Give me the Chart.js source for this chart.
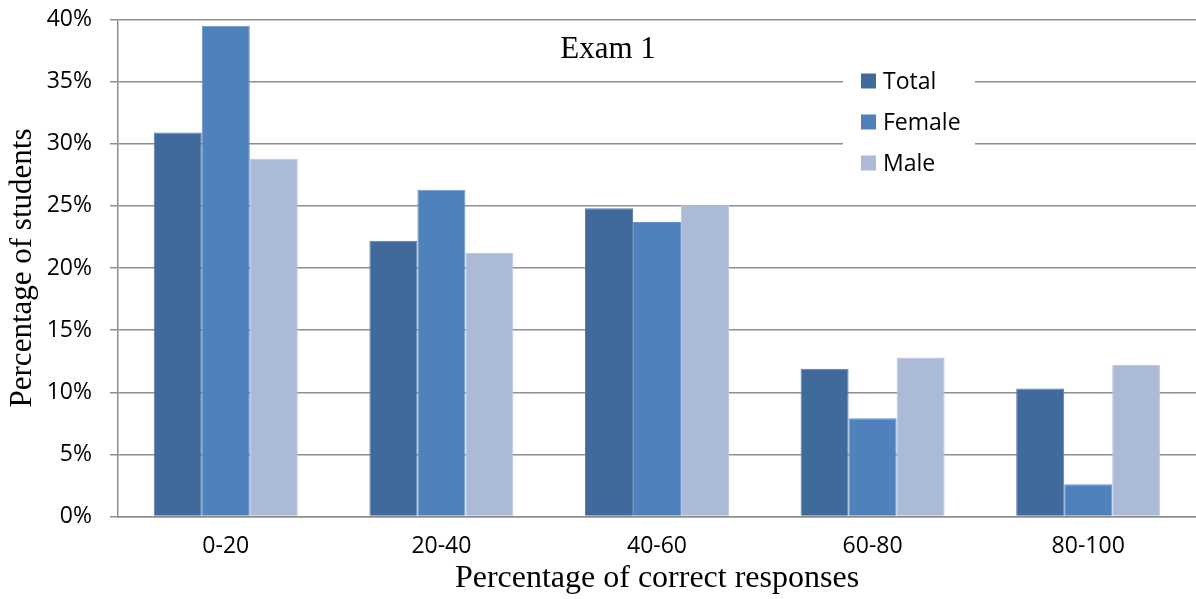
<!DOCTYPE html>
<html>
<head>
<meta charset="utf-8">
<script src="https://cdn.jsdelivr.net/npm/chart.js@4/dist/chart.umd.min.js"></script>
<style>
  html, body { margin: 0; padding: 0; background: #fff; }
  #wrap { width: 1196px; height: 599px; position: relative; }
</style>
</head>
<body>
<div id="wrap"><canvas id="c" width="1196" height="599"></canvas></div>
<script>
// Score bands on the x axis
const categories = ['0-20', '20-40', '40-60', '60-80', '80-100'];
// Share of students (%) in each band
const totalValues = [30.9, 22.2, 24.8, 11.9, 10.3];
const femaleValues = [39.5, 26.3, 23.7, 7.9, 2.6];
const maleValues = [28.8, 21.2, 25.1, 12.8, 12.2];
const seriesNames = ['Total', 'Female', 'Male'];
const chartTitle = 'Exam 1';
const xTitle = 'Percentage of correct responses';
const yTitle = 'Percentage of students';

const colors = ['#416A9C', '#4F81BD', '#AABAD7'];
// slightly lighter outline for each bar
const edgeColors = ['#5a7fab', '#6a94c8', '#bcc8e0'];
const gridColor = '#8e8e8e';
const tickFont = { family: '"Open Sans", "Noto Sans", sans-serif', size: 23 };
const serifFamily = '"Liberation Serif", "DejaVu Serif", serif';
const serifFont = { family: serifFamily, size: 31 };

// In-plot title and boxed legend
const overlayPlugin = {
  id: 'overlay',
  afterDatasetsDraw(chart) {
    const ctx = chart.ctx;
    ctx.save();
    // title
    ctx.fillStyle = '#000';
    ctx.font = `${serifFont.size}px ${serifFamily}`;
    ctx.textAlign = 'center';
    ctx.textBaseline = 'middle';
    ctx.fillText(chartTitle, 608, 50);

    // legend block with white backing over the gridlines
    ctx.fillStyle = '#fff';
    ctx.fillRect(843, 60, 132, 124);
    ctx.font = `23px ${tickFont.family}`;
    ctx.textAlign = 'left';
    chart.data.datasets.forEach((ds, i) => {
      const cy = 81 + i * 41;
      ctx.fillStyle = ds.backgroundColor;
      ctx.fillRect(861, cy - 7.5, 15, 15);
      ctx.fillStyle = '#000';
      ctx.fillText(ds.label, 883, cy + 1);
    });
    ctx.restore();
  }
};

new Chart(document.getElementById('c'), {
  type: 'bar',
  data: {
    labels: categories,
    datasets: [
      { label: seriesNames[0], data: totalValues, backgroundColor: colors[0], borderColor: edgeColors[0] },
      { label: seriesNames[1], data: femaleValues, backgroundColor: colors[1], borderColor: edgeColors[1] },
      { label: seriesNames[2], data: maleValues, backgroundColor: colors[2], borderColor: edgeColors[2] }
    ].map(d => Object.assign(d, {
      borderWidth: { top: 1, left: 1, right: 1, bottom: 0 },
      borderSkipped: false,
      categoryPercentage: 0.668,
      barPercentage: 1.0
    }))
  },
  options: {
    responsive: false,
    animation: false,
    layout: { padding: { top: 19.5, right: 0, left: 0, bottom: 0 } },
    plugins: {
      legend: { display: false },
      tooltip: { enabled: false }
    },
    scales: {
      x: {
        grid: { display: false, drawTicks: false },
        border: { display: true, color: gridColor, width: 1.5 },
        ticks: { color: '#000', font: tickFont, padding: 16, maxRotation: 0 },
        title: { display: true, text: xTitle, color: '#000', font: { family: serifFamily, size: 32 }, padding: { top: 0, bottom: 1 } },
        afterFit(scale) { scale.height = 82.5; }
      },
      y: {
        min: 0,
        max: 40,
        ticks: {
          stepSize: 5,
          color: '#000',
          font: tickFont,
          padding: 18,
          callback: v => v + '%'
        },
        grid: { color: gridColor, lineWidth: 1.5, tickLength: 8, drawTicks: true },
        border: { display: true, color: gridColor, width: 1.5 },
        title: { display: true, text: yTitle, color: '#000', font: serifFont, padding: { top: 4, bottom: 0 } },
        afterFit(scale) {
          scale.width = 118;
          scale.paddingTop = 0;
          scale.paddingBottom = 0;
        }
      }
    }
  },
  plugins: [overlayPlugin]
});
</script>
</body>
</html>
